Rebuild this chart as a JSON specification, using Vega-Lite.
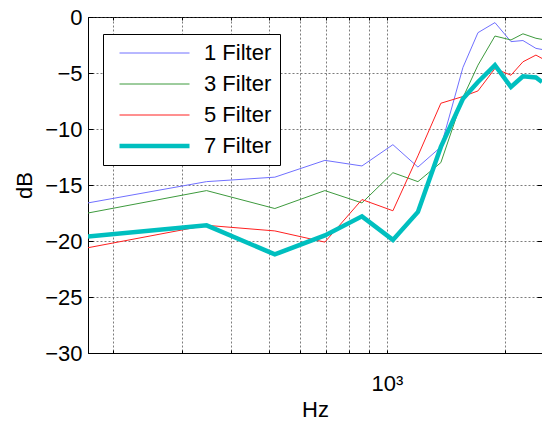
{
  "$schema": "https://vega.github.io/schema/vega-lite/v6.json",
  "autosize": {"type": "none"},
  "width": 454,
  "height": 336,
  "padding": {"left": 88, "top": 17, "right": 0, "bottom": 73},
  "background": "white",
  "config": {
    "font": "Liberation Sans",
    "view": {"stroke": "#000", "strokeWidth": 1},
    "axis": {
      "labelFont": "Liberation Sans",
      "labelFontSize": 22,
      "labelColor": "#000",
      "titleFont": "Liberation Sans",
      "titleFontSize": 22,
      "titleFontWeight": "normal",
      "titleColor": "#000",
      "domainColor": "#000",
      "tickColor": "#000",
      "gridColor": "#444",
      "gridDash": [2, 2],
      "gridOpacity": 0.7,
      "gridWidth": 1
    },
    "legend": {
      "labelFont": "Liberation Sans",
      "labelFontSize": 22,
      "labelColor": "#000"
    }
  },
  "data": {
    "values": [
      {"f": 173, "db": -16.6, "s": "1 Filter"},
      {"f": 347, "db": -14.7, "s": "1 Filter"},
      {"f": 518, "db": -14.3, "s": "1 Filter"},
      {"f": 695, "db": -12.8, "s": "1 Filter"},
      {"f": 864, "db": -13.3, "s": "1 Filter"},
      {"f": 1036, "db": -11.4, "s": "1 Filter"},
      {"f": 1200, "db": -13.4, "s": "1 Filter"},
      {"f": 1373, "db": -11.6, "s": "1 Filter"},
      {"f": 1563, "db": -4.5, "s": "1 Filter"},
      {"f": 1707, "db": -1.4, "s": "1 Filter"},
      {"f": 1886, "db": -0.5, "s": "1 Filter"},
      {"f": 2072, "db": -2.2, "s": "1 Filter"},
      {"f": 2223, "db": -2.1, "s": "1 Filter"},
      {"f": 2399, "db": -2.8, "s": "1 Filter"},
      {"f": 2486, "db": -2.9, "s": "1 Filter"},

      {"f": 173, "db": -17.5, "s": "3 Filter"},
      {"f": 347, "db": -15.5, "s": "3 Filter"},
      {"f": 518, "db": -17.1, "s": "3 Filter"},
      {"f": 695, "db": -15.5, "s": "3 Filter"},
      {"f": 864, "db": -16.6, "s": "3 Filter"},
      {"f": 1036, "db": -13.9, "s": "3 Filter"},
      {"f": 1200, "db": -14.7, "s": "3 Filter"},
      {"f": 1373, "db": -13.0, "s": "3 Filter"},
      {"f": 1563, "db": -7.2, "s": "3 Filter"},
      {"f": 1707, "db": -4.3, "s": "3 Filter"},
      {"f": 1886, "db": -1.7, "s": "3 Filter"},
      {"f": 2072, "db": -2.05, "s": "3 Filter"},
      {"f": 2223, "db": -1.5, "s": "3 Filter"},
      {"f": 2399, "db": -1.9, "s": "3 Filter"},
      {"f": 2486, "db": -2.0, "s": "3 Filter"},

      {"f": 173, "db": -20.6, "s": "5 Filter"},
      {"f": 347, "db": -18.6, "s": "5 Filter"},
      {"f": 518, "db": -19.1, "s": "5 Filter"},
      {"f": 695, "db": -20.1, "s": "5 Filter"},
      {"f": 864, "db": -16.3, "s": "5 Filter"},
      {"f": 1036, "db": -17.3, "s": "5 Filter"},
      {"f": 1200, "db": -12.4, "s": "5 Filter"},
      {"f": 1373, "db": -7.7, "s": "5 Filter"},
      {"f": 1563, "db": -7.1, "s": "5 Filter"},
      {"f": 1707, "db": -6.6, "s": "5 Filter"},
      {"f": 1886, "db": -4.6, "s": "5 Filter"},
      {"f": 2072, "db": -5.2, "s": "5 Filter"},
      {"f": 2223, "db": -4.0, "s": "5 Filter"},
      {"f": 2399, "db": -3.4, "s": "5 Filter"},
      {"f": 2486, "db": -3.7, "s": "5 Filter"},

      {"f": 173, "db": -19.6, "s": "7 Filter"},
      {"f": 347, "db": -18.6, "s": "7 Filter"},
      {"f": 518, "db": -21.2, "s": "7 Filter"},
      {"f": 695, "db": -19.5, "s": "7 Filter"},
      {"f": 864, "db": -17.8, "s": "7 Filter"},
      {"f": 1036, "db": -19.9, "s": "7 Filter"},
      {"f": 1200, "db": -17.4, "s": "7 Filter"},
      {"f": 1373, "db": -11.6, "s": "7 Filter"},
      {"f": 1563, "db": -7.3, "s": "7 Filter"},
      {"f": 1707, "db": -5.8, "s": "7 Filter"},
      {"f": 1886, "db": -4.3, "s": "7 Filter"},
      {"f": 2072, "db": -6.25, "s": "7 Filter"},
      {"f": 2223, "db": -5.3, "s": "7 Filter"},
      {"f": 2399, "db": -5.4, "s": "7 Filter"},
      {"f": 2486, "db": -5.8, "s": "7 Filter"}
    ]
  },
  "layer": [
    {
      "mark": {"type": "line", "clip": true},
      "encoding": {
        "x": {
          "field": "f",
          "type": "quantitative",
          "scale": {"type": "log", "domain": [173, 2486], "nice": false},
          "axis": {
            "title": "Hz",
            "values": [200, 300, 400, 500, 600, 700, 800, 900, 1000, 2000],
            "labelExpr": "datum.value == 1000 ? '10³' : ''",
            "tickSize": -3,
            "labelPadding": 23,
            "titlePadding": 5,
            "grid": true
          }
        },
        "y": {
          "field": "db",
          "type": "quantitative",
          "scale": {"domain": [-30, 0], "nice": false},
          "axis": {
            "title": "dB",
            "values": [-30, -25, -20, -15, -10, -5, 0],
            "tickSize": -5,
            "labelPadding": 11,
            "titlePadding": 8,
            "grid": true
          }
        },
        "color": {
          "field": "s",
          "type": "nominal",
          "scale": {
            "domain": ["1 Filter", "3 Filter", "5 Filter", "7 Filter"],
            "range": ["#7070ff", "#3d9a3d", "#ff2020", "#00bfbf"]
          },
          "legend": {
            "title": null,
            "orient": "none",
            "legendX": 15,
            "legendY": 17,
            "symbolType": "stroke",
            "symbolSize": 4900,
            "symbolOffset": 6,
            "clipHeight": 22,
            "labelOffset": 12,
            "rowPadding": 9,
            "padding": 8,
            "strokeColor": "#000",
            "fillColor": "#fff"
          }
        },
        "strokeWidth": {
          "field": "s",
          "type": "nominal",
          "scale": {
            "type": "ordinal",
            "domain": ["1 Filter", "3 Filter", "5 Filter", "7 Filter"],
            "range": [1, 1, 1, 4.5]
          },
          "legend": {
            "title": null,
            "orient": "none",
            "legendX": 15,
            "legendY": 17,
            "symbolType": "stroke",
            "symbolSize": 4900,
            "symbolOffset": 6,
            "clipHeight": 22,
            "labelOffset": 12,
            "rowPadding": 9,
            "padding": 8,
            "strokeColor": "#000",
            "fillColor": "#fff"
          }
        }
      }
    },
    {
      "mark": {"type": "point", "opacity": 0},
      "encoding": {
        "x": {
          "field": "f",
          "type": "quantitative",
          "axis": {
            "orient": "top",
            "title": null,
            "labels": false,
            "domain": false,
            "grid": false,
            "values": [200, 300, 400, 500, 600, 700, 800, 900, 1000, 2000],
            "tickSize": -3
          }
        },
        "y": {
          "field": "db",
          "type": "quantitative",
          "axis": {
            "orient": "right",
            "title": null,
            "labels": false,
            "domain": false,
            "grid": false,
            "values": [-30, -25, -20, -15, -10, -5, 0],
            "tickSize": -5
          }
        }
      }
    }
  ],
  "resolve": {"axis": {"x": "independent", "y": "independent"}}
}
